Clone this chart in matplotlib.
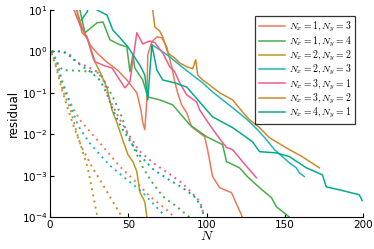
import matplotlib
matplotlib.use("Agg")
import matplotlib.pyplot as plt
import numpy as np

plt.rcParams['mathtext.fontset'] = 'cm'

labels = [r"$N_x = 1, N_y = 3$", r"$N_x = 1, N_y = 4$", r"$N_x = 2, N_y = 2$",
          r"$N_x = 2, N_y = 3$", r"$N_x = 3, N_y = 1$", r"$N_x = 3, N_y = 2$",
          r"$N_x = 4, N_y = 1$"]
colors = ["#ec7a55", "#4aac4c", "#b59b20", "#1db6bb", "#ee5b8b", "#cd8a2c", "#08a98a"]

# solid curves: N and log10(residual)
n_solid = [
    [17, 21, 25.5, 30, 36, 43, 49, 55.4, 58, 59.2, 60.5, 61.8, 62.4, 65, 68.2, 71.3, 74.5,
     77.7, 79.6, 81.5, 84, 87.3, 90.4, 98.7, 100.6, 103.8, 108.3, 115.9, 124],
    [19, 22.3, 30, 33.8, 38.2, 44.6, 49, 51, 52.9, 54.1, 59.2, 62.4, 70, 78.3, 89.2, 100,
     110.2, 112.7, 121, 126, 133.8, 141.4, 144.6, 154.5],
    [17, 20.4, 23.6, 27.4, 31.8, 36.3, 39.5, 42.7, 45.9, 49.7, 52.9, 55.4, 57.3, 60.5, 62],
    [65, 70, 76.4, 82.8, 89.2, 97.5, 103.8, 116.6, 126, 132.5, 138.2, 143.3, 148.4, 152.9,
     157.3, 159.2, 162.4],
    [15.3, 19, 23.6, 28.7, 35, 39.5, 47.8, 51, 55.4, 59.2, 63.7, 66.9, 72, 76.4, 79.6, 82.8,
     87.3, 93.6, 95.5, 101.9, 106.4, 110.2, 112.7, 116.6, 122.9, 131.8],
    [65.4, 66.9, 70, 72, 75.2, 79.6, 82.8, 87.3, 91.1, 93, 94.3, 97.5, 101.9, 108.3, 116.6,
     122.9, 127.4, 133.8, 140, 151, 161, 172],
    [20, 23.6, 25, 29.9, 36.3, 40, 44.6, 49.7, 52.9, 57.3, 60.5, 62.4, 65, 66.9, 68.2, 72,
     79.6, 87.3, 95.5, 103.8, 116.6, 129.3, 133.8, 144.6, 152.9, 163.7, 174, 176.4, 184.7,
     197.5, 199.4],
]
log_solid = [
    [1.0, 0.52, 0.16, -0.04, -0.25, -0.45, -0.69, -1.0, -1.41, -1.72, -1.89, -1.17, -0.08,
     0.23, 0.35, 0.33, 0.11, -0.37, -0.73, -1.0, -1.29, -1.48, -1.82, -2.06, -2.37, -3.02,
     -3.29, -3.41, -4.1],
    [1.0, 0.45, 0.69, 0.71, 0.28, 0.16, 0.11, -0.49, -0.08, -0.40, -0.69, -1.10, -1.17,
     -1.29, -1.77, -2.06, -2.25, -2.66, -2.81, -3.02, -3.29, -3.53, -3.75, -4.05],
    [1.0, 0.45, 0.33, -0.16, -0.49, -0.88, -1.41, -1.72, -2.08, -2.49, -2.66, -2.90, -3.39,
     -3.63, -4.05],
    [0.16, 0.04, -0.13, -0.33, -0.52, -0.76, -0.98, -1.36, -1.65, -1.89, -2.13, -2.37,
     -2.54, -2.69, -2.81, -2.93, -3.02],
    [1.0, 0.64, 0.35, -0.25, -0.35, -0.40, -0.88, -0.73, 0.45, 0.18, 0.25, 0.21, -0.04,
     -0.37, -0.49, -0.76, -1.05, -1.22, -1.41, -1.77, -2.01, -2.20, -2.32, -2.37, -2.66,
     -3.05],
    [1.05, 0.59, 0.49, 0.35, -0.04, -0.16, -0.28, -0.37, -0.42, -0.20, -0.57, -0.69, -0.81,
     -1.0, -1.17, -1.46, -1.65, -1.84, -2.08, -2.33, -2.54, -2.81],
    [0.76, 0.95, 1.1, 1.0, 0.88, 0.52, 0.33, 0.11, -0.08, -0.33, -0.57, -1.17, 0.16, -0.20,
     -0.45, -0.69, -0.76, -0.86, -1.22, -1.58, -1.84, -2.18, -2.42, -2.45, -2.54, -2.81,
     -2.98, -3.27, -3.34, -3.46, -3.60],
]

# dotted curves
n_dot = [
    [1, 3, 6, 10, 15, 20, 27, 33.8, 44.6, 55.4, 63.7, 74.5, 78],
    [1, 4, 8, 20, 32, 36, 41, 46, 49, 54, 59, 64, 72, 81, 89],
    [1, 5, 8, 13, 17, 24, 30],
    [1, 4, 8, 11, 14, 18, 25, 32, 38, 46, 59, 72],
    [1, 8, 12, 16, 24, 30, 34, 36, 38, 44.6, 50, 57, 66, 76, 85, 94, 97, 98],
    [1, 4, 7, 11, 15, 20, 27, 35, 42, 46],
    [1, 8, 14, 20, 26, 32, 36, 40, 45, 50, 57, 66, 76, 85, 92, 96, 98],
]
log_dot = [
    [0, -0.25, -0.6, -1.0, -1.4, -1.7, -2.0, -2.3, -2.78, -3.17, -3.5, -3.82, -3.95],
    [0, -0.25, -0.45, -0.47, -0.52, -0.81, -1.17, -1.6, -1.96, -2.37, -2.78, -3.1, -3.5,
     -3.75, -4.0],
    [0, -0.33, -0.93, -1.41, -1.96, -2.8, -3.95],
    [0, -0.2, -0.75, -1.05, -1.4, -1.8, -2.2, -2.5, -2.75, -3.0, -3.4, -3.92],
    [0, 0, -0.05, -0.25, -0.37, -0.49, -0.69, -0.93, -1.17, -1.65, -2.0, -2.4, -2.7, -2.95,
     -3.2, -3.55, -3.75, -3.95],
    [-0.05, -0.4, -0.85, -1.35, -1.8, -2.3, -2.8, -3.3, -3.75, -4.0],
    [0, 0, -0.15, -0.35, -0.5, -0.7, -1.0, -1.4, -1.8, -2.1, -2.5, -2.85, -3.1, -3.3, -3.5,
     -3.7, -3.95],
]

fig = plt.figure(figsize=(3.74, 2.49), dpi=100)
ax = fig.add_axes([0.134, 0.128, 0.837, 0.832])

for i in range(7):
    ax.plot(n_solid[i], 10.0 ** np.array(log_solid[i]), color=colors[i], lw=1.1,
            label=labels[i])
for i in range(7):
    ax.plot(n_dot[i], 10.0 ** np.array(log_dot[i]), color=colors[i], lw=1.4,
            ls=(0, (1, 2.2)))

ax.set_yscale('log')
ax.set_xlim(0, 200)
ax.set_ylim(1e-4, 1e1)
ax.set_xticks([0, 50, 100, 150, 200])
ax.set_yticks([1e-4, 1e-3, 1e-2, 1e-1, 1e0, 1e1])
ax.minorticks_off()
ax.tick_params(direction='in', length=3, width=0.8, labelsize=7.5, pad=2)
for s in ['top', 'right']:
    ax.spines[s].set_visible(False)
for s in ['left', 'bottom']:
    ax.spines[s].set_linewidth(0.8)
ax.set_xlabel(r"$N$", fontsize=10, labelpad=-1)
ax.set_ylabel("residual", fontsize=8.5, labelpad=1)

leg = ax.legend(loc='upper right', bbox_to_anchor=(0.975, 0.97), fontsize=7.1,
                frameon=True, fancybox=False, handlelength=2.7, handletextpad=0.35,
                labelspacing=0.0, borderpad=0.4, borderaxespad=0.0)
leg.get_frame().set_edgecolor('black')
leg.get_frame().set_linewidth(0.9)

fig.savefig("out.png", dpi=100)
